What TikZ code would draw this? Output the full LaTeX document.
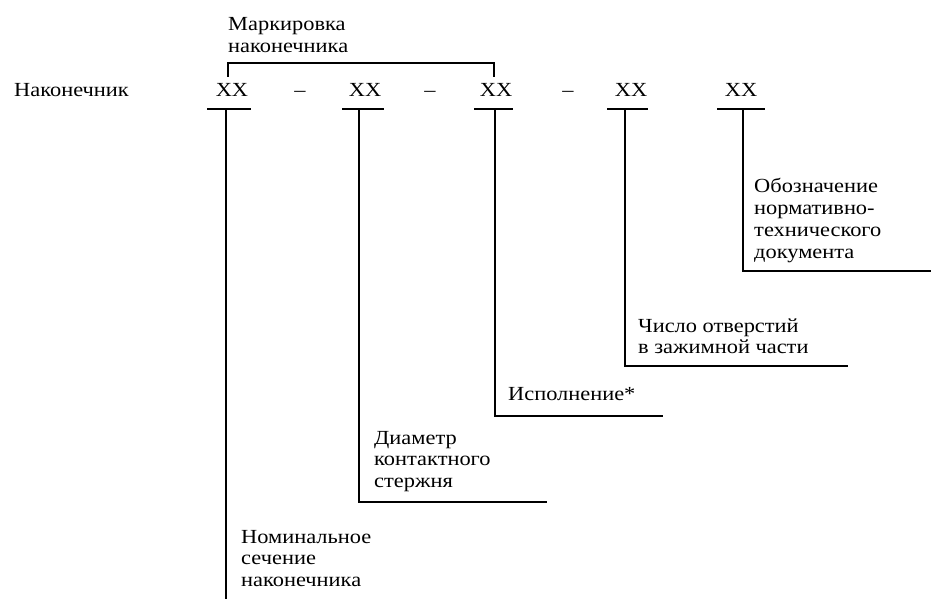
\documentclass[tikz,border=0pt]{standalone}
\usepackage{fontspec}
\setmainfont{Liberation Serif}[FakeStretch=1.12]
\begin{document}
\begin{tikzpicture}[x=1pt,y=-1pt,
  lbl/.style={inner sep=0pt, anchor=base west, align=left, font=\fontsize{20}{21.7}\selectfont},
  code/.style={inner sep=0pt, anchor=base, font=\fontsize{20}{21.7}\selectfont},
  ln/.style={line width=1.3pt, line cap=rect}]
\useasboundingbox (0,0) rectangle (931,598);
% title (base anchor = baseline of last line)
\node[lbl] (mark) at (228,52) {Маркировка\\наконечника};
\node[lbl] (nak) at (14,96) {Наконечник};
% codes
\node[code] (xx1) at (232,96) {XX};
\node[code] (d1) at (300,96) {–};
\node[code] (xx2) at (365,96) {XX};
\node[code] (d2) at (430,96) {–};
\node[code] (xx3) at (496,96) {XX};
\node[code] (d3) at (568,96) {–};
\node[code] (xx4) at (631,96) {XX};
\node[code] (xx5) at (741,96) {XX};
% bracket
\coordinate (b1) at (228,76);
\coordinate (b3) at (494,76);
\draw[ln] (b1) -- ++(0,-13) -| (b3);
% underline points
\coordinate (u1) at (226,109);
\coordinate (u2) at (359,109);
\coordinate (u3) at (495,109);
\coordinate (u4) at (625,109);
\coordinate (u5) at (743,109);
\draw[ln] (208,109) -- (250,109);
\draw[ln] (343,109) -- (383,109);
\draw[ln] (475,109) -- (512,109);
\draw[ln] (608,109) -- (647,109);
\draw[ln] (718,109) -- (764,109);
% labels
\node[lbl] (l5) at (754,258) {Обозначение\\нормативно-\\технического\\документа};
\node[lbl] (l4) at (638,353.7) {Число отверстий\\в зажимной части};
\node[lbl] (l3) at (508,400) {Исполнение*};
\node[lbl] (l2) at (374,487.4) {Диаметр\\контактного\\стержня};
\node[lbl] (l1) at (241,586.4) {Номинальное\\сечение\\наконечника};
% line ends
\coordinate (e5) at (931,271);
\coordinate (e4) at (847,366);
\coordinate (e3) at (662,416);
\coordinate (e2) at (546,502);
\coordinate (e1) at (226,598);
\draw[ln] (u5) |- (e5);
\draw[ln] (u4) |- (e4);
\draw[ln] (u3) |- (e3);
\draw[ln] (u2) |- (e2);
\draw[ln] (u1) -- (e1);
\end{tikzpicture}
\end{document}
